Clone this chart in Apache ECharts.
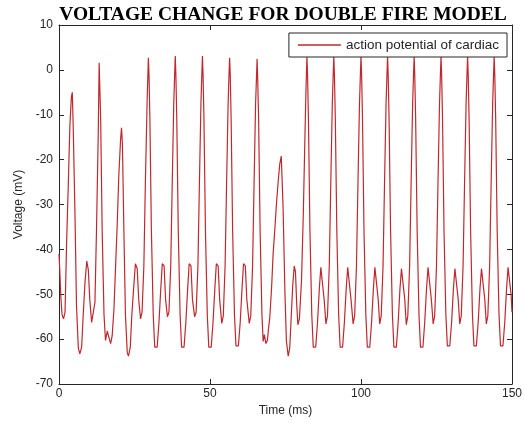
<!DOCTYPE html>
<html>
<head>
<meta charset="utf-8">
<script src="https://cdn.jsdelivr.net/npm/echarts@6/dist/echarts.min.js"></script>
<style>
  html, body { margin: 0; padding: 0; background: #fff; }
  #chart { width: 525px; height: 424px; }
</style>
</head>
<body>
<div id="chart"></div>
<script>
// Axis ranges and tick spacing
const timeRange = [0, 150];
const timeStep = 50;
const voltageRange = [-70, 10];
const voltageStep = 10;

const seriesName = 'action potential of cardiac';

// Membrane voltage samples: [time (ms), voltage (mV)]
const trace = [
  [0,-41],[0.25,-44.5],[0.6,-50.5],[1.0,-54.5],[1.5,-55.5],[2.0,-54],[2.5,-39],[3.1,-25],[3.6,-12.5],[4.1,-6],[4.4,-5],
  [4.7,-12.5],[5.3,-32.5],[5.8,-52.6],[6.4,-62],[6.9,-63.3],[7.5,-61.8],[8.0,-54.8],[8.6,-47.4],[9.2,-42.6],[9.7,-44.5],
  [10.2,-51.2],[10.8,-56.3],[11.3,-56.3],[11.9,-51.8],[12.4,-36.3],[13.0,-14],[13.3,1.6],
  [13.8,-11],[14.3,-36],[14.9,-54.5],[15.4,-60.3],[16.0,-58.2],[16.4,-59.3],[17.1,-61],[17.6,-59.3],[18.2,-53.3],
  [18.7,-44.4],[19.3,-34],[19.8,-23.6],[20.4,-15.4],[20.7,-12.9],
  [21.0,-16.5],[21.5,-36.3],[22.0,-54.5],[22.6,-63],[23.0,-63.8],[23.6,-61.8],[24.1,-54.8],[24.7,-48.8],[25.3,-43.2],
  [25.9,-44.3],[26.4,-51.2],[27.0,-55.5],[27.5,-54],[28.1,-43.7],[28.6,-25.1],[29.2,-6.5],[29.6,2.7],
  [29.8,-1],[30.1,-11],[30.6,-36],[31.2,-54.5],[31.7,-61.8],[32.0,-62.2],[32.5,-61.8],[33.1,-56.3],[33.7,-48.8],
  [34.2,-43.2],[34.8,-43.7],[35.3,-51.2],[35.9,-55],[36.4,-54],[37.0,-43.7],[37.5,-25.1],[38.0,-7.5],[38.3,-1],[38.5,3.1],
  [38.7,-1],[39.0,-11],[39.5,-36],[40.1,-54.5],[40.6,-61.8],[40.9,-62.2],[41.4,-61.8],[42.0,-56.3],[42.6,-48.8],
  [43.1,-43.2],[43.7,-43.7],[44.2,-51.2],[44.9,-55],[45.4,-54],[46.0,-43.7],[46.5,-25.1],[47.0,-7.5],[47.3,-1],[47.5,3.1],
  [47.7,-1],[48.0,-11],[48.5,-36],[49.1,-54.5],[49.6,-61.8],[49.9,-62.2],[50.4,-61.8],[51.0,-56.3],[51.6,-48.8],
  [52.1,-43.2],[52.7,-43.7],[53.2,-51.2],[53.9,-56.5],[54.4,-54.8],[55.0,-43.7],[55.5,-25.1],[56.0,-7.5],[56.3,-1],[56.5,2.7],
  [56.7,-1],[57.0,-11],[57.5,-36],[58.1,-54.5],[58.6,-61.5],[58.9,-61.8],[59.4,-61.5],[60.0,-56.3],[60.6,-48.8],
  [61.1,-43.2],[61.7,-43.7],[62.2,-51.2],[63.0,-56.5],[63.5,-54.8],[64.1,-43.7],[64.6,-25.1],[65.1,-7.5],[65.4,-1.5],[65.6,2.4],
  [65.8,-2],[66.1,-11],[66.6,-36],[67.2,-54.5],[67.6,-60.5],[68.0,-59],[68.5,-61],[69.0,-60.3],[69.4,-57.5],[69.8,-55.2],
  [70.4,-48.5],[70.9,-41],[71.5,-35.2],[72.0,-29.9],[72.6,-24.7],[73.1,-21],[73.6,-19.2],
  [74.2,-30.7],[74.8,-49.3],[75.3,-60.4],[75.9,-63.8],[76.4,-62],[76.9,-55],[77.4,-48],[77.9,-43.7],[78.3,-45],
  [78.7,-52],[79.1,-56.8],[79.6,-55.5],[80.3,-47],[80.9,-32],[81.4,-16],[81.8,-4],[82.1,3],
  [82.3,-1],[82.6,-11],[83.1,-36],[83.7,-54.5],[84.2,-61.8],[84.5,-62.2],[85.0,-61.8],[85.6,-56.3],[86.2,-48.8],
  [86.7,-44],[87.3,-44.3],[87.8,-51.2],[88.4,-56.6],[88.9,-54.8],[89.5,-43.7],[90.0,-25.1],[90.5,-7.5],[90.8,-1],[91.0,3],
  [91.2,-1],[91.5,-11],[92.0,-36],[92.6,-54.5],[93.1,-61.8],[93.4,-62.2],[93.9,-61.8],[94.5,-56.3],[95.1,-48.8],
  [95.6,-44],[96.2,-44.3],[96.7,-51.2],[97.4,-56.6],[97.9,-54.8],[98.5,-43.7],[99.0,-25.1],[99.5,-7.5],[99.8,-1],[100.0,3],
  [100.2,-1],[100.5,-11],[101.0,-36],[101.6,-54.5],[102.1,-61.8],[102.4,-62.2],[102.9,-61.8],[103.5,-56.3],[104.1,-48.8],
  [104.6,-44],[105.2,-44.3],[105.7,-51.2],[106.2,-56.6],[106.7,-54.8],[107.3,-43.7],[107.8,-25.1],[108.3,-7.5],[108.6,-1],[108.8,3],
  [109.0,-1],[109.3,-11],[109.8,-36],[110.4,-54.5],[110.9,-61.8],[111.2,-62.2],[111.7,-61.8],[112.3,-56.3],[112.9,-48.8],
  [113.4,-44.3],[114.0,-44.5],[114.5,-51.2],[115.0,-56.8],[115.5,-54.8],[116.1,-43.7],[116.6,-25.1],[117.1,-7.5],[117.4,-1],[117.6,3],
  [117.8,-1],[118.1,-11],[118.6,-36],[119.2,-54.5],[119.7,-61.8],[120.0,-62.2],[120.5,-61.8],[121.1,-56.3],[121.7,-48.8],
  [122.2,-44],[122.8,-44.3],[123.3,-51.2],[123.9,-56.6],[124.4,-54.8],[125.0,-43.7],[125.5,-25.1],[126.0,-7.5],[126.3,-1],[126.5,3],
  [126.7,-1],[127.0,-11],[127.5,-36],[128.1,-54.5],[128.6,-61.5],[128.9,-61.8],[129.4,-61.5],[130.0,-56.3],[130.6,-48.8],
  [131.1,-44.3],[131.7,-44.5],[132.2,-51.2],[132.7,-56.6],[133.2,-54.8],[133.8,-43.7],[134.3,-25.1],[134.8,-7.5],[135.1,-1],[135.3,3],
  [135.5,-1],[135.8,-11],[136.3,-36],[136.9,-54.5],[137.4,-61.5],[137.7,-61.8],[138.2,-61.5],[138.8,-56.3],[139.4,-48.8],
  [139.9,-44.3],[140.5,-44.5],[141.0,-51.2],[141.5,-56.6],[142.0,-54.8],[142.6,-43.7],[143.1,-25.1],[143.6,-7.5],[143.9,-1],[144.1,3],
  [144.3,-1],[144.6,-11],[145.1,-36],[145.7,-54.5],[146.2,-61.5],[146.5,-61.8],[147.0,-61.5],[147.6,-56.3],[148.2,-48.8],
  [148.7,-44],[149.3,-44.3],[149.7,-50],[150,-54]
];

const frameColor = '#262626';
const textColor = '#262626';
const traceColor = '#c0282d';
const sansFont = '"Liberation Sans", Arial, sans-serif';

// Shared style for the four sides of the plot frame (MATLAB-like box with inward ticks)
const boxAxis = (extra) => Object.assign({
  type: 'value',
  axisLine: { show: true, onZero: false, lineStyle: { color: frameColor, width: 1 } },
  axisTick: { show: true, inside: true, length: 5, lineStyle: { color: frameColor } },
  splitLine: { show: false },
  axisLabel: { show: false }
}, extra);

const chart = echarts.init(document.getElementById('chart'), null, { renderer: 'canvas' });

chart.setOption({
  animation: false,
  backgroundColor: '#ffffff',
  title: {
    text: 'VOLTAGE CHANGE FOR DOUBLE FIRE MODEL',
    left: 278,
    top: 0,
    textAlign: 'center',
    textStyle: {
      fontFamily: '"Liberation Serif", "Times New Roman", serif',
      fontWeight: 'bold',
      fontSize: 19.5,
      color: '#000'
    }
  },
  legend: {
    data: [{ name: seriesName, icon: 'rect' }],
    right: 18,
    top: 33,
    itemWidth: 43,
    itemHeight: 1.5,
    itemGap: 0,
    padding: [5, 8, 5, 9],
    backgroundColor: '#ffffff',
    borderColor: frameColor,
    borderWidth: 1,
    borderRadius: 0,
    textStyle: { fontFamily: sansFont, fontSize: 13.5, color: textColor }
  },
  grid: { left: 59, right: 12, top: 25, bottom: 40, containLabel: false },
  xAxis: [
    boxAxis({
      position: 'bottom',
      min: timeRange[0], max: timeRange[1], interval: timeStep,
      axisLabel: { show: true, color: textColor, fontFamily: sansFont, fontSize: 12, margin: 4 },
      name: 'Time (ms)',
      nameLocation: 'middle',
      nameGap: 20,
      nameTextStyle: { color: textColor, fontFamily: sansFont, fontSize: 12 }
    }),
    boxAxis({
      position: 'top',
      min: timeRange[0], max: timeRange[1], interval: timeStep
    })
  ],
  yAxis: [
    boxAxis({
      position: 'left',
      min: voltageRange[0], max: voltageRange[1], interval: voltageStep,
      axisLabel: { show: true, color: textColor, fontFamily: sansFont, fontSize: 12, margin: 6 },
      name: 'Voltage (mV)',
      nameLocation: 'middle',
      nameGap: 33,
      nameRotate: 90,
      nameTextStyle: { color: textColor, fontFamily: sansFont, fontSize: 12 }
    }),
    boxAxis({
      position: 'right',
      min: voltageRange[0], max: voltageRange[1], interval: voltageStep
    })
  ],
  series: [{
    name: seriesName,
    type: 'line',
    xAxisIndex: 0,
    yAxisIndex: 0,
    data: trace,
    showSymbol: false,
    symbol: 'none',
    clip: true,
    lineStyle: { color: traceColor, width: 1.2 },
    itemStyle: { color: traceColor }
  }]
});
</script>
</body>
</html>
